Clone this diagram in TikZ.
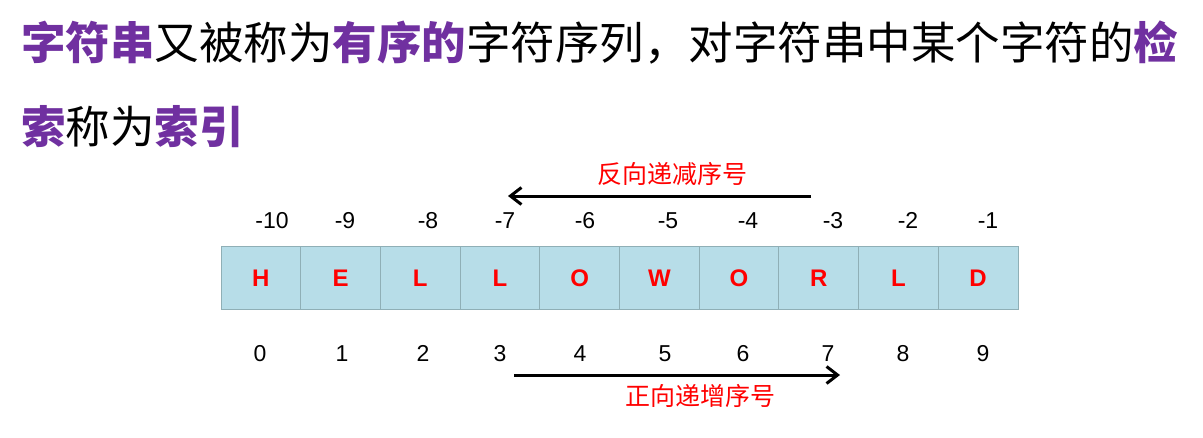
\documentclass[tikz,border=0pt]{standalone}
\usepackage{fontspec}
\setmainfont{Liberation Sans}
\newfontfamily\cjk{Noto Sans CJK SC}
\usetikzlibrary{arrows.meta}
\definecolor{hlpurple}{HTML}{7030A0}
\definecolor{cellfill}{HTML}{B7DDE8}
\definecolor{cellline}{HTML}{8FAFB6}
\definecolor{lblred}{HTML}{FF0000}
\tikzset{
  cellbox/.style={draw=cellline, line width=1pt, fill=cellfill, minimum width=79.7pt, minimum height=63pt, inner sep=0pt, text=lblred, font=\fontsize{24}{24}\selectfont\bfseries},
  idx/.style={inner sep=0pt, anchor=base, font=\fontsize{23}{23}\selectfont},
  title/.style={inner sep=0pt, anchor=west, font=\cjk\fontsize{44.5}{44.5}\selectfont},
  redlbl/.style={inner sep=0pt, text=lblred, font=\cjk\fontsize{25}{25}\selectfont},
  dirarrow/.style={line width=3pt, -{Straight Barb[length=11pt,width=17pt,line width=3pt]}}
}
\newcommand{\hp}[1]{{\color{hlpurple}\bfseries #1}}
\begin{document}
\begin{tikzpicture}[x=1pt,y=-1pt]
\useasboundingbox (0,0) rectangle (1203,437);
\fill[white] (0,0) rectangle (1203,437);
\node[title] (line1) at (21,43) {\hp{字符串}又被称为\hp{有序的}字符序列，对字符串中某个字符的\hp{检}};
\node[title] (line2) at (21,127) {\hp{索}称为\hp{索引}};
% cells
\foreach \i/\ch in {0/H,1/E,2/L,3/L,4/O,5/W,6/O,7/R,8/L,9/D}{
  \node[cellbox] (c\i) at ({221+79.7*(\i+0.5)},278) {\ch};
}
% top indices
\foreach \i/\x/\t in {0/272/-10,1/345/-9,2/428/-8,3/505/-7,4/585/-6,5/668/-5,6/748/-4,7/833/-3,8/908/-2,9/988/-1}{
  \node[idx] (t\i) at (\x,228) {\t};
}
% bottom indices
\foreach \i/\x in {0/260,1/342,2/423,3/500,4/580,5/665,6/743,7/828,8/903,9/983}{
  \node[idx] (b\i) at (\x,361) {\i};
}
% arrows
\coordinate (rs) at (811,196);
\coordinate (re) at (508,196);
\draw[dirarrow] (rs) -- (re);
\node[redlbl] (rlbl) at (672,174) {反向递减序号};
\coordinate (fs) at (514,375);
\coordinate (fe) at (840,375);
\draw[dirarrow] (fs) -- (fe);
\node[redlbl] (flbl) at (700,396) {正向递增序号};
\end{tikzpicture}
\end{document}
